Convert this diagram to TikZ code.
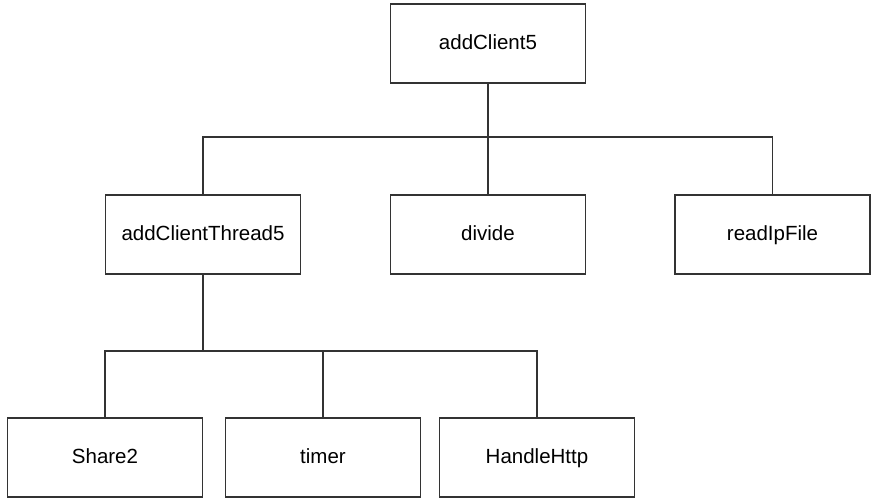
\documentclass[tikz,border=0pt]{standalone}
\usepackage{fontspec}
\setmainfont{Liberation Sans}
\begin{document}
\begin{tikzpicture}[x=1pt,y=-1pt,
  fn/.style={draw=black!80,line width=1.2pt,minimum width=195pt,minimum height=79pt,inner sep=0pt,text height=15pt,text depth=4pt,font=\fontsize{20.5}{24}\selectfont},
  link/.style={draw=black!80,line width=1.2pt}]
\useasboundingbox (0,0) rectangle (871,498);
\node[fn] (root) at (488.000000,43.500000) {addClient5};
\node[fn] (thread) at (203.000000,234.500000) {addClientThread5};
\node[fn] (divide) at (488.000000,234.500000) {divide};
\node[fn] (readip) at (772.500000,234.500000) {readIpFile};
\node[fn] (share) at (105.000000,457.500000) {Share2};
\node[fn] (timer) at (323.000000,457.500000) {timer};
\node[fn] (http) at (537.000000,457.500000) {HandleHttp};
\coordinate (busA) at (488.000000,137.000000);
\coordinate (busB) at (203.000000,351.000000);
\draw[link] (root.south) -- (busA);
\draw[link] (thread.north) |- (busA) -| (readip.north);
\draw[link] (busA) -- (divide.north);
\draw[link] (thread.south) -- (busB);
\draw[link] (share.north) |- (busB) -| (http.north);
\draw[link] (busB) -| (timer.north);
\end{tikzpicture}
\end{document}
